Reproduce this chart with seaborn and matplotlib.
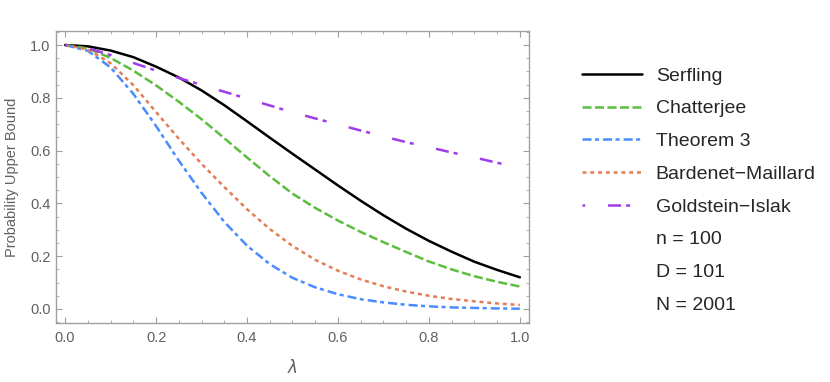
import numpy as np
import pandas as pd
import matplotlib
matplotlib.use("Agg")
import matplotlib.pyplot as plt
from matplotlib.lines import Line2D
from matplotlib.ticker import MultipleLocator
import seaborn as sns

# values
lam = [0.0, 0.05, 0.1, 0.15, 0.2, 0.25, 0.3, 0.35, 0.4, 0.45, 0.5,
       0.55, 0.6, 0.65, 0.7, 0.75, 0.8, 0.85, 0.9, 0.95, 1.0]
serfling = [1.0, 0.995, 0.979, 0.954, 0.918, 0.877, 0.828, 0.772, 0.711, 0.649, 0.588,
            0.528, 0.468, 0.41, 0.355, 0.304, 0.258, 0.217, 0.179, 0.148, 0.12]
chatterjee = [1.0, 0.987, 0.951, 0.903, 0.847, 0.785, 0.719, 0.647, 0.574, 0.503, 0.437,
              0.383, 0.335, 0.292, 0.253, 0.216, 0.18, 0.15, 0.124, 0.103, 0.085]
theorem3 = [1.0, 0.978, 0.915, 0.815, 0.693, 0.562, 0.44, 0.33, 0.24, 0.17, 0.118,
            0.082, 0.056, 0.037, 0.025, 0.016, 0.01, 0.006, 0.004, 0.002, 0.001]
bardenet = [1.0, 0.983, 0.931, 0.848, 0.746, 0.645, 0.55, 0.462, 0.378, 0.303, 0.239,
            0.186, 0.145, 0.112, 0.086, 0.066, 0.05, 0.038, 0.029, 0.021, 0.015]
goldstein = [1.0, 0.988, 0.962, 0.932, 0.903, 0.875, 0.849, 0.823, 0.797, 0.771, 0.745,
             0.722, 0.699, 0.676, 0.654, 0.632, 0.613, 0.593, 0.574, 0.554, 0.535]

names = ["Serfling", "Chatterjee", "Theorem 3", "Bardenet\u2212Maillard", "Goldstein\u2212Islak"]
series = [serfling, chatterjee, theorem3, bardenet, goldstein]
colors = ["#000000", "#5cbd3f", "#4a8cff", "#e27d55", "#a03be8"]
styles = ["-", (0, (6.5, 2.5)), (0, (6.5, 2.5, 2.9, 2.9)), (0, (2.9, 2.7)),
          (14, (9.4, 3.6, 2.9, 16.5))]
extra = ["n = 100", "D = 101", "N = 2001"]

sns.set_style("ticks")
plt.rcParams['font.family'] = ['Liberation Sans', 'DejaVu Sans']
plt.rcParams['lines.scale_dashes'] = False
plt.rcParams['mathtext.fontset'] = 'dejavusans'

fig = plt.figure(figsize=(8.3, 3.82), dpi=100)
ax = fig.add_axes([0.0675, 0.1545, 0.5698, 0.7643])

handles = []
for name, vals, c, ls in zip(names, series, colors, styles):
    df = pd.DataFrame({'lam': lam, 'p': vals})
    sns.lineplot(data=df, x='lam', y='p', ax=ax, color=c, linestyle=ls,
                 linewidth=1.8, errorbar=None)
    handles.append(Line2D([], [], color=c, linestyle=ls, linewidth=1.8))

ax.set_xlim(-0.02, 1.02)
ax.set_ylim(-0.053, 1.053)
ax.xaxis.set_major_locator(MultipleLocator(0.2))
ax.xaxis.set_minor_locator(MultipleLocator(0.05))
ax.yaxis.set_major_locator(MultipleLocator(0.2))
ax.yaxis.set_minor_locator(MultipleLocator(0.05))
ax.xaxis.set_major_formatter(matplotlib.ticker.FormatStrFormatter('%.1f'))
ax.yaxis.set_major_formatter(matplotlib.ticker.FormatStrFormatter('%.1f'))

grey = "#a0a0a0"
for s in ax.spines.values():
    s.set_color(grey)
    s.set_linewidth(1.0)
ax.tick_params(which='both', direction='in', top=True, right=True, color=grey,
               labelcolor="#606060", labelsize=10.5)
ax.tick_params(which='major', length=4, width=0.8)
ax.tick_params(which='minor', length=2.3, width=0.6)
ax.tick_params(axis='x', pad=6)
ax.tick_params(axis='y', pad=4)

ax.set_xlabel(r'$\lambda$', color="#606060", fontsize=12, labelpad=9)
ax.set_ylabel('Probability Upper Bound', color="#606060", fontsize=10.5, labelpad=8)

for t in extra:
    handles.append(Line2D([], [], color='none'))
leg = ax.legend(handles, names + extra, loc='upper left',
                bbox_to_anchor=(0.6916, 0.845), bbox_transform=fig.transFigure,
                frameon=False, fontsize=14, handlelength=3.1, handletextpad=0.7,
                labelspacing=0.78, borderaxespad=0)

fig.savefig('out.png', dpi=100)
